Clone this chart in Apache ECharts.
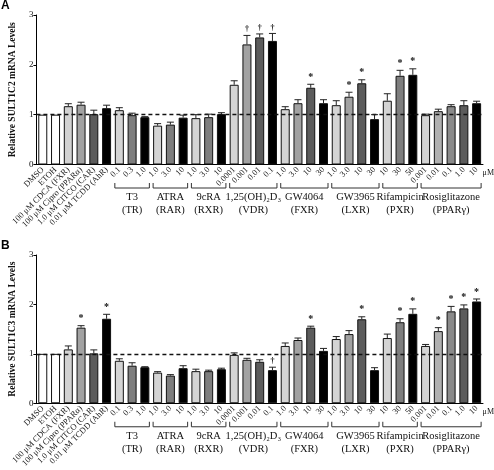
<!DOCTYPE html>
<html><head><meta charset="utf-8">
<script src="https://cdn.jsdelivr.net/npm/echarts@6/dist/echarts.min.js"></script>
<style>html,body{margin:0;padding:0;background:#fff}#c{width:494px;height:470px}</style>
</head><body><div id="c"></div>
<script>
// ---- data ----
const categories = ['DMSO','ETOH','100 μM CDCA (FXR)','100 μM Cipro (PPARα)','1.0 μM CITCO (CAR)','0.01 μM TCDD (AhR)',
  '0.1','0.3','1.0', '1.0','3.0','10', '1.0','3.0','10', '0.0001','0.001','0.01','0.1',
  '1.0','3.0','10','30', '1.0','3.0','10','30', '10','30','50', '0.001','0.01','0.1','1.0','10'];
const controlCount = 6;
const groupNames = ['T3','ATRA','9cRA','1,25(OH)₂D₃','GW4064','GW3965','Rifampicin','Rosiglitazone'];
const groupReceptors = ['(TR)','(RAR)','(RXR)','(VDR)','(FXR)','(LXR)','(PXR)','(PPARγ)'];
const groupSizes = [3,3,3,4,4,4,3,5];

const valuesA = [1.00,1.00,1.17,1.20,1.01,1.13, 1.09,0.99,0.95, 0.78,0.80,0.94, 0.93,0.95,1.01,
  1.60,2.41,2.55,2.48, 1.11,1.23,1.54,1.23, 1.19,1.36,1.63,0.91, 1.28,1.78,1.80, 0.99,1.07,1.17,1.19,1.23];
const errorsA = [0,0,0.05,0.05,0.08,0.06, 0.05,0.04,0.01, 0.04,0.05,0.05, 0.07,0.06,0.03,
  0.08,0.18,0.07,0.15, 0.05,0.07,0.07,0.07, 0.09,0.09,0.07,0.09, 0.14,0.11,0.12, 0.02,0.04,0.03,0.09,0.04];
const marksA = ['','','','','','', '','','', '','','', '','','', '','†','†','†', '','','*','', '','*','*','', '','*','*', '','','','',''];

const valuesB = [1.00,1.00,1.09,1.53,1.01,1.71, 0.86,0.76,0.73, 0.62,0.56,0.71, 0.65,0.65,0.69,
  0.98,0.88,0.84,0.67, 1.16,1.28,1.53,1.06, 1.30,1.40,1.70,0.67, 1.32,1.64,1.81, 1.16,1.46,1.86,1.92,2.06];
const errorsB = [0,0,0.07,0.04,0.07,0.09, 0.04,0.06,0.01, 0.02,0.02,0.05, 0.04,0.02,0.02,
  0.04,0.03,0.04,0.06, 0.06,0.04,0.03,0.05, 0.05,0.07,0.05,0.05, 0.08,0.07,0.10, 0.03,0.07,0.10,0.07,0.05];
const marksB = ['','','','*','','*', '','','', '','','', '','','', '','','','†', '','','*','', '','','*','', '','*','*', '','*','*','*','*'];

const yTicks = [0,1,2,3];

// ---- styles ----
const controlShades = ['#ffffff','#ffffff','#d2d2d2','#a2a2a2','#5c5c5c','#000000'];
const shadesBySize = {
  3: ['#d4d4d4','#7e7e7e','#000000'],
  4: ['#d4d4d4','#a2a2a2','#5c5c5c','#000000'],
  5: ['#d4d4d4','#b0b0b0','#8a8a8a','#5c5c5c','#000000']
};
const colors = controlShades.slice();
groupSizes.forEach(s => { colors.push(...shadesBySize[s]); });

const serif = '"Liberation Serif","Times New Roman",serif';
const grids = [
  {left: 23, right: 11, top: 15, height: 149.5},
  {left: 23, right: 11, top: 255, height: 153.5}
];
const panels = [
  {vals: valuesA, errs: errorsA, marks: marksA, name: 'Relative SULT1C2 mRNA Levels', letter: 'A'},
  {vals: valuesB, errs: errorsB, marks: marksB, name: 'Relative SULT1C3 mRNA Levels', letter: 'B'}
];

const chart = echarts.init(document.getElementById('c'), null, {renderer: 'canvas'});

const xAxes = [], yAxes = [], series = [];
panels.forEach((p, g) => {
  xAxes.push({
    type: 'category', gridIndex: g, data: categories,
    axisLine: {show: true, lineStyle: {color: '#000', width: 1}},
    axisTick: {show: false},
    axisLabel: {interval: 0, rotate: 45, fontSize: 8.5, fontFamily: serif, color: '#111', margin: 4}
  });
  yAxes.push({
    type: 'value', gridIndex: g, min: yTicks[0], max: yTicks[yTicks.length-1], interval: 1,
    name: p.name, nameLocation: 'middle', nameGap: 13, nameRotate: 90,
    nameTextStyle: {fontFamily: serif, fontWeight: 'bold', fontSize: 9.5, color: '#111'},
    axisLine: {show: true, lineStyle: {color: '#000', width: 1}},
    axisTick: {show: true, length: 3, lineStyle: {color: '#000'}},
    axisLabel: {fontFamily: serif, fontSize: 9, color: '#111', margin: 3},
    splitLine: {show: false}
  });
  series.push({
    type: 'bar', xAxisIndex: g, yAxisIndex: g, barWidth: 9,
    data: p.vals.map((v, i) => ({value: v, itemStyle: {color: colors[i]}})),
    itemStyle: {borderColor: '#111', borderWidth: 1},
    markLine: {
      silent: true, symbol: 'none', label: {show: false},
      lineStyle: {type: [4, 3], color: '#111', width: 1.3},
      data: [{yAxis: 1}]
    },
    z: 2
  });
  series.push({
    type: 'custom', xAxisIndex: g, yAxisIndex: g, clip: false, z: 5,
    data: p.vals.map((v, i) => [i, v, p.errs[i]]),
    renderItem: (params, api) => {
      const i = api.value(0), v = api.value(1), e = api.value(2);
      const p0 = api.coord([i, v]), p1 = api.coord([i, v + e]);
      const ch = [];
      if (e > 0) {
        ch.push({type: 'line', shape: {x1: p0[0], y1: p0[1], x2: p1[0], y2: p1[1]}, style: {stroke: '#222', lineWidth: 1}});
        ch.push({type: 'line', shape: {x1: p1[0]-3.5, y1: p1[1], x2: p1[0]+3.5, y2: p1[1]}, style: {stroke: '#222', lineWidth: 1}});
      }
      const m = p.marks[params.dataIndex];
      if (m) {
        ch.push({type: 'text', style: {text: m, x: p1[0], y: p1[1] - 2, align: 'center', verticalAlign: 'bottom',
          fontSize: m === '*' ? 10 : 8, fontWeight: 'bold', fontFamily: serif, fill: '#111'}});
      }
      return {type: 'group', children: ch};
    }
  });
});

chart.setOption({
  animation: false,
  grid: grids,
  xAxis: xAxes,
  yAxis: yAxes,
  series: series
});

// ---- group brackets and labels, placed through the axis scale ----
const graphics = [];
panels.forEach((p, g) => {
  graphics.push({type: 'text', left: 1, top: g === 0 ? 0 : 240,
    style: {text: p.letter, font: 'bold 12px "Liberation Sans", Arial, sans-serif', fill: '#000'}});
  let start = controlCount;
  groupSizes.forEach((s, k) => {
    const a = chart.convertToPixel({gridIndex: g}, [start, 0]);
    const b = chart.convertToPixel({gridIndex: g}, [start + s - 1, 0]);
    const y0 = a[1];
    const x1 = a[0] - 4.5, x2 = b[0] + 4.5, yb = y0 + 23.5;
    graphics.push({type: 'polyline', shape: {points: [[x1, yb-5], [x1, yb], [x2, yb], [x2, yb-5]]},
      style: {stroke: '#333', lineWidth: 1, fill: null}});
    const cx = (a[0] + b[0]) / 2;
    graphics.push({type: 'text', x: cx, y: y0 + 32.5,
      style: {text: groupNames[k], align: 'center', verticalAlign: 'middle', font: '10.5px ' + serif, fill: '#111'}});
    graphics.push({type: 'text', x: cx, y: y0 + 45.5,
      style: {text: groupReceptors[k], align: 'center', verticalAlign: 'middle', font: '10.5px ' + serif, fill: '#111'}});
    start += s;
  });
  const last = chart.convertToPixel({gridIndex: g}, [categories.length - 1, 0]);
  graphics.push({type: 'text', x: last[0] + 6, y: last[1] + 8.5,
    style: {text: 'μM', align: 'left', verticalAlign: 'middle', font: '8px ' + serif, fill: '#111'}});
});
chart.setOption({graphic: graphics});
</script>
</body></html>
